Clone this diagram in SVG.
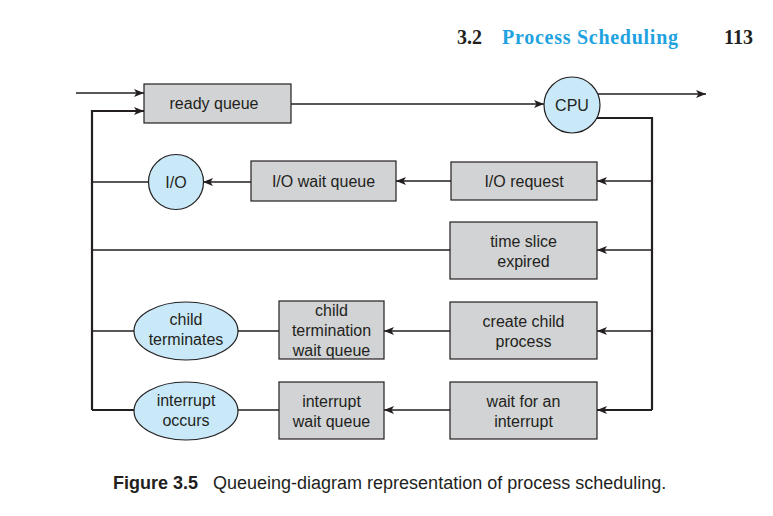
<svg xmlns="http://www.w3.org/2000/svg" width="773" height="516" viewBox="0 0 773 516">
<style>
.box{fill:#d1d3d4;stroke:#231f20;stroke-width:1.2}
.circ{fill:#c9e9f8;stroke:#231f20;stroke-width:1.2}
.t{font-family:"Liberation Sans",Arial,sans-serif;font-size:16px;fill:#231f20;text-anchor:middle}
.thin{fill:none;stroke:#231f20;stroke-width:1.5}
.thick{fill:none;stroke:#231f20;stroke-width:2.2}
.hd{font-family:"Liberation Serif","Times New Roman",serif;font-weight:bold;font-size:20px}
.cap{font-family:"Liberation Sans",Arial,sans-serif;font-size:18px;fill:#231f20}
</style>
<defs>
<marker id="ah" markerUnits="userSpaceOnUse" markerWidth="10" markerHeight="8" refX="10" refY="4" orient="auto">
<path d="M0,0 L10,4 L0,8 L2.5,4 z" fill="#231f20"/>
</marker>
</defs>
<rect width="773" height="516" fill="#ffffff"/>
<g id="header">
<text class="hd" x="457" y="44" fill="#231f20">3.2</text>
<text class="hd" x="502" y="44" fill="#1fa3e0" textLength="176">Process Scheduling</text>
<text class="hd" x="724" y="44" fill="#231f20">113</text>
</g>
<g id="connectors">
<path class="thin" d="M76,93 H144" marker-end="url(#ah)"/>
<path class="thick" d="M92,410 V111 H144" marker-end="url(#ah)"/>
<path class="thin" d="M291,104 H544" marker-end="url(#ah)"/>
<path class="thin" d="M598,94 H706" marker-end="url(#ah)"/>
<path class="thick" d="M597,118 H652 V410"/>
<path class="thin" d="M652,181 H597" marker-end="url(#ah)"/>
<path class="thin" d="M652,250 H597" marker-end="url(#ah)"/>
<path class="thin" d="M652,331 H597" marker-end="url(#ah)"/>
<path class="thick" d="M652,410 H597" marker-end="url(#ah)"/>
<path class="thin" d="M451,181 H396" marker-end="url(#ah)"/>
<path class="thin" d="M251,182 H203" marker-end="url(#ah)"/>
<path class="thin" d="M148,182 H92"/>
<path class="thin" d="M450,250 H92"/>
<path class="thin" d="M450,331 H384" marker-end="url(#ah)"/>
<path class="thin" d="M279,331 H238"/>
<path class="thin" d="M134,331 H92"/>
<path class="thin" d="M450,410 H384" marker-end="url(#ah)"/>
<path class="thin" d="M279,410 H238"/>
<path class="thick" d="M134,410 H92"/>
</g>
<g id="ready-queue">
<rect class="box" x="144" y="84" width="147" height="39"/>
<text class="t" x="214" y="109">ready queue</text>
</g>
<g id="cpu">
<circle class="circ" cx="572" cy="105" r="28"/>
<text class="t" x="572" y="111">CPU</text>
</g>
<g id="io-request">
<rect class="box" x="451" y="162" width="146" height="38"/>
<text class="t" x="524" y="187">I/O request</text>
</g>
<g id="io-wait-queue">
<rect class="box" x="251" y="161" width="145" height="40"/>
<text class="t" x="323.5" y="187">I/O wait queue</text>
</g>
<g id="io">
<circle class="circ" cx="176" cy="182" r="27.5"/>
<text class="t" x="176" y="188">I/O</text>
</g>
<g id="time-slice">
<rect class="box" x="450" y="222" width="147" height="57"/>
<text class="t" x="523.5" y="247">time slice</text>
<text class="t" x="523.5" y="267">expired</text>
</g>
<g id="create-child">
<rect class="box" x="450" y="302" width="147" height="57"/>
<text class="t" x="523.5" y="327">create child</text>
<text class="t" x="523.5" y="347">process</text>
</g>
<g id="child-wait-queue">
<rect class="box" x="279" y="301" width="105" height="58"/>
<text class="t" x="331.5" y="316">child</text>
<text class="t" x="331.5" y="336">termination</text>
<text class="t" x="331.5" y="356">wait queue</text>
</g>
<g id="child-terminates">
<ellipse class="circ" cx="186" cy="331" rx="52" ry="29"/>
<text class="t" x="186" y="325">child</text>
<text class="t" x="186" y="345">terminates</text>
</g>
<g id="wait-interrupt">
<rect class="box" x="450" y="382" width="147" height="57"/>
<text class="t" x="523.5" y="407">wait for an</text>
<text class="t" x="523.5" y="427">interrupt</text>
</g>
<g id="interrupt-wait-queue">
<rect class="box" x="279" y="382" width="105" height="57"/>
<text class="t" x="331.5" y="407">interrupt</text>
<text class="t" x="331.5" y="427">wait queue</text>
</g>
<g id="interrupt-occurs">
<ellipse class="circ" cx="186" cy="411" rx="52" ry="29"/>
<text class="t" x="186" y="406">interrupt</text>
<text class="t" x="186" y="426">occurs</text>
</g>
<g id="caption">
<text class="cap" x="113" y="489" font-weight="bold">Figure 3.5</text>
<text class="cap" x="213" y="489">Queueing-diagram representation of process scheduling.</text>
</g>
</svg>
